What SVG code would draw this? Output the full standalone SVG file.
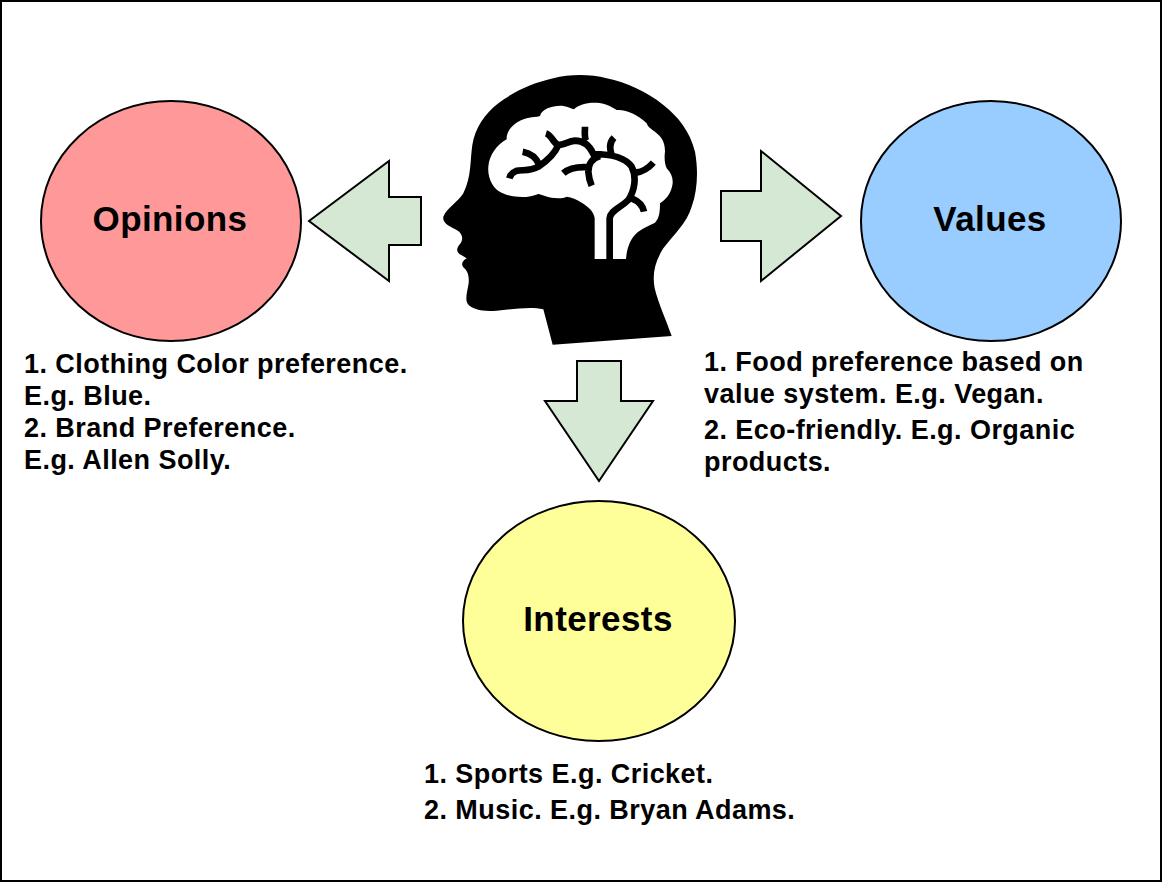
<svg xmlns="http://www.w3.org/2000/svg" width="1162" height="882" viewBox="0 0 1162 882">
<style>
.shape{stroke:#000;stroke-width:2}
.arrow{fill:#d5e8d4;stroke:#000;stroke-width:2}
.title{font:bold 35px "Liberation Sans",Arial,sans-serif;text-anchor:middle;fill:#000;letter-spacing:.4px}
.body{font:bold 27px "Liberation Sans",Arial,sans-serif;fill:#000;letter-spacing:.45px}
.vein{fill:none;stroke:#000;stroke-width:20}
</style>
<rect x="1" y="1" width="1160" height="880" fill="#fff" stroke="#000" stroke-width="2"/>
<g id="head" transform="translate(430 70) scale(.33333)">
<path fill="#000" d="M368 824L725 798C708 750 685 700 674 655C666 610 675 575 700 535C730 495 770 460 785 410C803 360 805 300 795 245C780 185 745 140 700 105C650 65 590 38 530 25C480 12 420 12 370 25C310 38 250 65 205 100C165 130 135 175 127 225C120 270 125 320 100 370C85 395 50 415 40 440C36 460 60 470 80 480C100 492 100 510 90 522C78 535 78 548 95 556L110 565C98 572 92 582 100 592C112 602 118 615 116 640C112 665 105 685 112 700C125 720 160 725 200 722C250 718 300 708 340 718Z"/>
<path fill="#fff" d="M175 290C178 255 200 225 230 208C228 180 255 155 290 145C305 140 320 142 330 138C335 115 375 105 400 108C415 110 425 116 432 118C450 100 490 93 525 103C540 107 550 115 560 120C590 118 625 135 650 160C655 175 670 180 680 190C700 205 705 225 705 245C702 265 705 285 710 295C725 310 732 330 726 350C720 375 705 390 690 400C690 425 688 445 675 458C650 470 625 480 610 500C595 520 590 545 588 567L494 567L494 445C492 425 475 410 455 398C440 388 425 382 410 380C395 388 365 385 345 378C335 375 330 372 325 372C295 385 250 385 215 368C190 358 172 325 175 290Z"/>
<path class="vein" d="M539 567V445C542 420 570 415 595 390C615 360 620 320 605 290C585 262 540 252 490 252C478 225 460 212 435 212C415 214 400 225 385 225C370 220 365 195 348 190M465 170C465 190 462 200 468 212M385 225C375 250 355 270 325 290C300 305 275 298 258 303C245 308 240 318 238 325M278 245C305 250 320 265 328 285M552 203C540 215 538 235 545 255M510 258C485 265 475 285 475 305C476 320 480 335 485 347M400 310C420 292 445 290 476 292M618 308C640 305 655 295 670 278M605 385C625 393 638 405 642 425"/>
</g>
<g id="opinions">
<ellipse class="shape" cx="171" cy="221" rx="130" ry="120" fill="#ff9999"/>
<text class="title" x="170" y="231">Opinions</text>
<text class="body" x="24" y="373">1. Clothing Color preference.</text>
<text class="body" x="24" y="405">E.g. Blue.</text>
<text class="body" x="24" y="437">2. Brand Preference.</text>
<text class="body" x="24" y="469">E.g. Allen Solly.</text>
</g>
<g id="values">
<ellipse class="shape" cx="991" cy="221" rx="130" ry="120" fill="#99ccff"/>
<text class="title" x="990" y="231">Values</text>
<text class="body" x="704" y="371">1. Food preference based on</text>
<text class="body" x="704" y="403">value system. E.g. Vegan.</text>
<text class="body" x="704" y="439">2. Eco-friendly. E.g. Organic</text>
<text class="body" x="704" y="471">products.</text>
</g>
<g id="interests">
<ellipse class="shape" cx="599" cy="621" rx="136" ry="120" fill="#ffff99"/>
<text class="title" x="598" y="631">Interests</text>
<text class="body" x="424" y="783">1. Sports E.g. Cricket.</text>
<text class="body" x="424" y="819">2. Music. E.g. Bryan Adams.</text>
</g>
<g id="connectors">
<polygon class="arrow" points="309,221 389,161 389,197 421,197 421,245 389,245 389,281"/>
<polygon class="arrow" points="721,191 761,191 761,151 841,216 761,281 761,241 721,241"/>
<polygon class="arrow" points="577,361 621,361 621,401 653,401 599,481 545,401 577,401"/>
</g>
</svg>
